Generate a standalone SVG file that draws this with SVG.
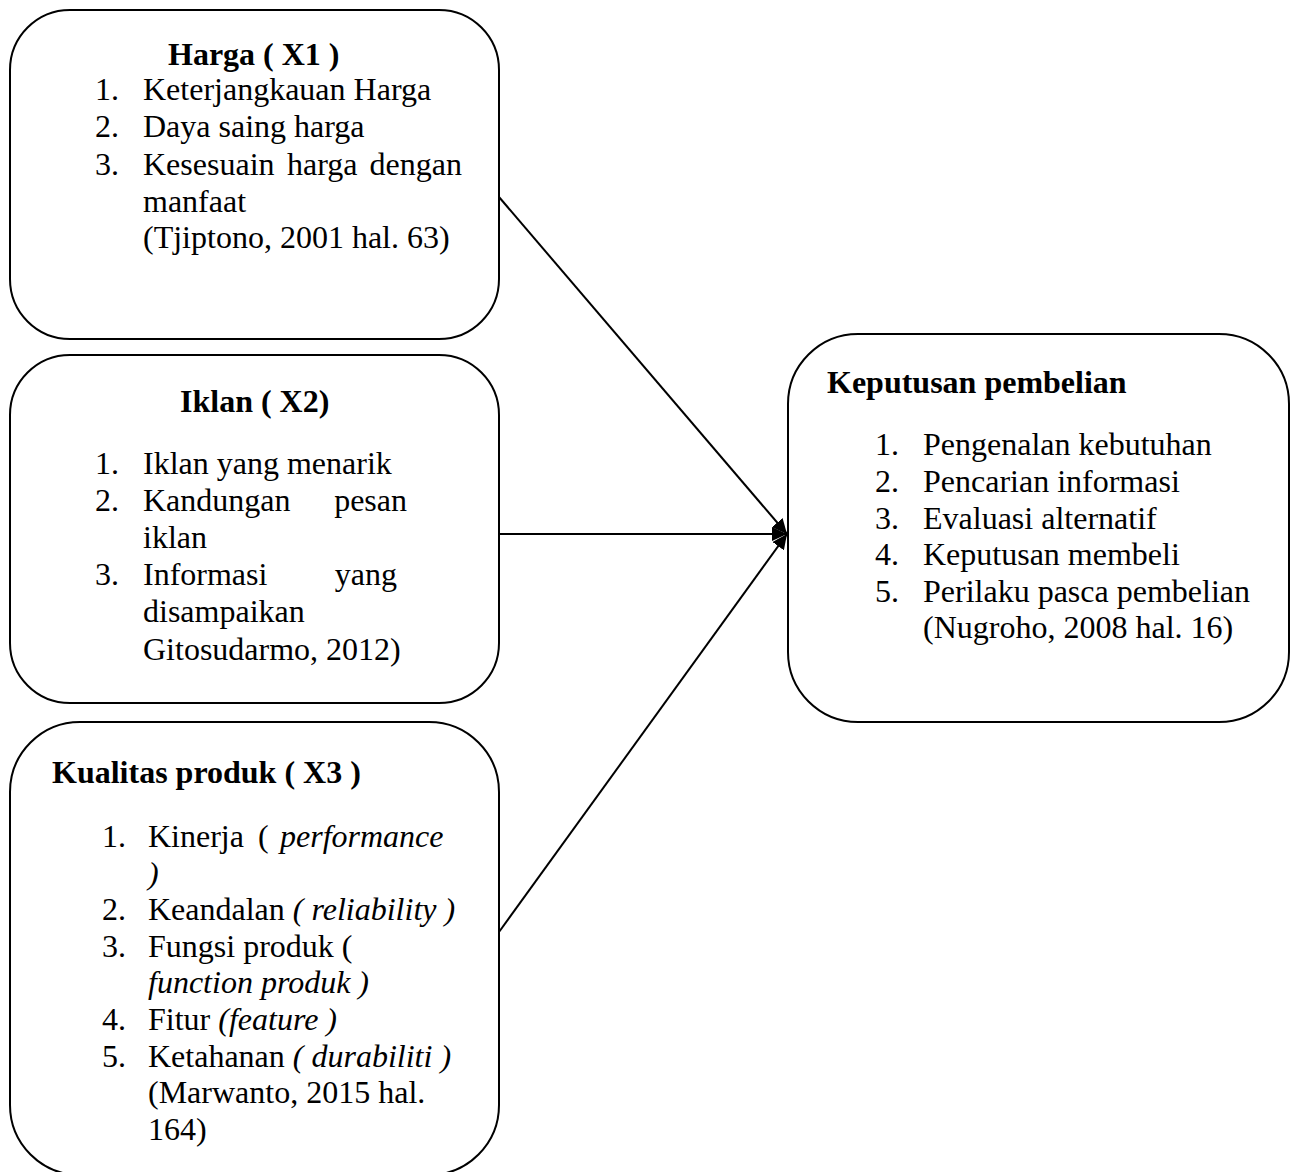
<svg xmlns="http://www.w3.org/2000/svg" width="1293" height="1172" viewBox="0 0 1293 1172">
<style>
.box{fill:#fff;stroke:#000;stroke-width:2}
text{font-family:"Liberation Serif","Times New Roman",serif;font-size:32px;fill:#000}
.b{font-weight:bold}
.i{font-style:italic}
.con{stroke:#000;stroke-width:2;fill:none;marker-end:url(#arr)}
</style>
<defs>
<marker id="arr" markerUnits="userSpaceOnUse" markerWidth="16" markerHeight="14" refX="15" refY="7" orient="auto">
<path d="M0,0 L15,7 L0,14 z" fill="#000"/>
</marker>
</defs>
<rect width="1293" height="1172" fill="#fff"/>
<g id="harga">
<rect class="box" x="10" y="10" width="489" height="329" rx="60" ry="60"/>
<text class="b" x="168" y="65">Harga ( X1 )</text>
<text x="95" y="100">1.</text><text x="143" y="100">Keterjangkauan Harga</text>
<text x="95" y="137">2.</text><text x="143" y="137">Daya saing harga</text>
<text x="95" y="175">3.</text><text x="143" y="175">Kesesuain</text><text x="287" y="175">harga</text><text x="462" y="175" text-anchor="end">dengan</text>
<text x="143" y="212">manfaat</text>
<text x="143" y="248">(Tjiptono, 2001 hal. 63)</text>
</g>
<g id="iklan">
<rect class="box" x="10" y="355" width="489" height="348" rx="60" ry="60"/>
<text class="b" x="180" y="412">Iklan ( X2)</text>
<text x="95" y="474">1.</text><text x="143" y="474">Iklan yang menarik</text>
<text x="95" y="511">2.</text><text x="143" y="511">Kandungan</text><text x="407" y="511" text-anchor="end">pesan</text>
<text x="143" y="548">iklan</text>
<text x="95" y="585">3.</text><text x="143" y="585">Informasi</text><text x="397" y="585" text-anchor="end">yang</text>
<text x="143" y="622">disampaikan</text>
<text x="143" y="660">Gitosudarmo, 2012)</text>
</g>
<g id="kualitas">
<rect class="box" x="10" y="722" width="489" height="453" rx="70" ry="70"/>
<text class="b" x="52" y="783">Kualitas produk ( X3 )</text>
<text x="102" y="847">1.</text><text x="148" y="847">Kinerja<tspan x="258">(</tspan><tspan class="i" x="280">performance</tspan></text>
<text class="i" x="148" y="884">)</text>
<text x="102" y="920">2.</text><text x="148" y="920">Keandalan<tspan class="i"> ( reliability )</tspan></text>
<text x="102" y="957">3.</text><text x="148" y="957">Fungsi produk (</text>
<text class="i" x="148" y="993">function produk )</text>
<text x="102" y="1030">4.</text><text x="148" y="1030">Fitur <tspan class="i">(feature )</tspan></text>
<text x="102" y="1067">5.</text><text x="148" y="1067">Ketahanan<tspan class="i"> ( durabiliti )</tspan></text>
<text x="148" y="1103">(Marwanto, 2015 hal.</text>
<text x="148" y="1140">164)</text>
</g>
<g id="keputusan">
<rect class="box" x="788" y="334" width="501" height="388" rx="70" ry="70"/>
<text class="b" x="827" y="393">Keputusan pembelian</text>
<text x="875" y="455">1.</text><text x="923" y="455">Pengenalan kebutuhan</text>
<text x="875" y="492">2.</text><text x="923" y="492">Pencarian informasi</text>
<text x="875" y="529">3.</text><text x="923" y="529">Evaluasi alternatif</text>
<text x="875" y="565">4.</text><text x="923" y="565">Keputusan membeli</text>
<text x="875" y="602">5.</text><text x="923" y="602">Perilaku pasca pembelian</text>
<text x="923" y="638">(Nugroho, 2008 hal. 16)</text>
</g>
<g id="connectors">
<line class="con" x1="499" y1="197" x2="787" y2="534"/>
<line class="con" x1="499" y1="534" x2="787" y2="534"/>
<line class="con" x1="499" y1="932" x2="787" y2="534"/>
</g>
</svg>
